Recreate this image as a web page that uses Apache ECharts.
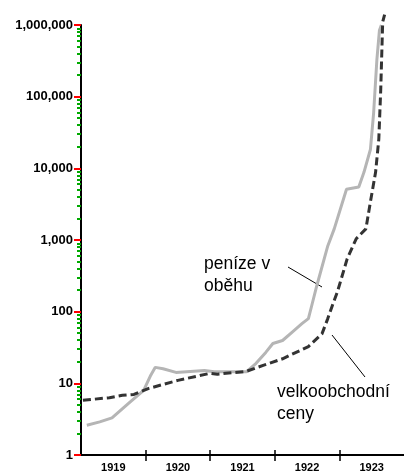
<!DOCTYPE html>
<html>
<head>
<meta charset="utf-8">
<script src="https://cdn.jsdelivr.net/npm/echarts@6/dist/echarts.min.js"></script>
<style>
html,body{margin:0;padding:0;background:#fff;}
#chart{width:404px;height:473px;}
</style>
</head>
<body>
<div id="chart"></div>
<script>
// Years shown under the x axis
var years = ['1919', '1920', '1921', '1922', '1923'];
// Y tick values and labels (log scale, powers of ten)
var yTickValues = [1, 10, 100, 1000, 10000, 100000, 1000000];
var yTickLabels = ['1', '10', '100', '1,000', '10,000', '100,000', '1,000,000'];

// Money in circulation (peníze v oběhu): time in fractional years, index value
var moneyT = [1919.09, 1919.29, 1919.48, 1919.74, 1919.97, 1920.08, 1920.15, 1920.27, 1920.47, 1920.91, 1921.06, 1921.56, 1921.71, 1921.86, 1921.97, 1922.12, 1922.27, 1922.42, 1922.52, 1922.58, 1922.65, 1922.82, 1922.92, 1923.11, 1923.30, 1923.38, 1923.48, 1923.53, 1923.58, 1923.62, 1923.65];
var moneyV = [2.6, 2.9, 3.3, 5.3, 8, 13, 16.7, 16, 14.2, 15.1, 14.5, 14.5, 19, 27, 36, 39.6, 52, 68, 80, 130, 230, 826, 1430, 5100, 5500, 8800, 18300, 59600, 325000, 846000, 1000000];

// Wholesale prices (velkoobchodní ceny)
var priceT = [1919.03, 1919.44, 1919.64, 1919.82, 1920.05, 1920.50, 1921.00, 1921.11, 1921.56, 1921.82, 1922.12, 1922.52, 1922.73, 1922.82, 1922.89, 1922.97, 1923.12, 1923.26, 1923.41, 1923.48, 1923.56, 1923.61, 1923.64, 1923.67, 1923.70];
var priceV = [5.8, 6.3, 6.8, 7, 8.5, 11, 13.8, 13.4, 14.7, 17.8, 22, 32.6, 49, 80, 121, 190, 545, 1040, 1430, 3400, 8800, 25500, 127000, 1100000, 1400000];

function zip(a, b) { return a.map(function (v, i) { return [v, b[i]]; }); }

var yearTicks = years.slice(1).map(Number);
var yearLabelPos = years.map(function (y) { return Number(y) + 0.5; });
var minorTickValues = [];
for (var e = 0; e < 6; e++) {
  for (var m = 2; m <= 9; m++) minorTickValues.push(m * Math.pow(10, e));
}

var chart = echarts.init(document.getElementById('chart'));
var option = {
  animation: false,
  grid: { left: 81, top: 25, bottom: 16, right: -7 },
  xAxis: [
    {
      type: 'value', min: 1919, max: 1924, position: 'bottom',
      axisLine: { show: true, lineStyle: { color: '#000', width: 2 } },
      axisTick: { show: true, customValues: yearTicks, length: 6, lineStyle: { color: '#000', width: 1.5 } },
      axisLabel: {
        customValues: yearLabelPos, margin: 7,
        formatter: function (v) { return years[Math.floor(v) - 1919]; },
        fontFamily: 'Liberation Sans', fontWeight: 'bold', fontSize: 11, color: '#000'
      },
      splitLine: { show: false }
    },
    {
      type: 'value', min: 1919, max: 1924, position: 'bottom', offset: 0,
      axisLine: { show: false },
      axisTick: { show: true, customValues: yearTicks, length: 5, inside: true, lineStyle: { color: '#000', width: 1.5 } },
      axisLabel: { show: false },
      splitLine: { show: false }
    }
  ],
  yAxis: [
    {
      type: 'log', min: 1, max: 1000000, position: 'left',
      axisLine: { show: true, lineStyle: { color: '#000', width: 2 } },
      axisTick: { show: true, length: 7, lineStyle: { color: '#f00', width: 2 } },
      axisLabel: {
        formatter: function (v) { return yTickLabels[yTickValues.indexOf(v)] || yTickLabels[Math.round(Math.log10(v))]; },
        fontFamily: 'Liberation Sans', fontWeight: 'bold', fontSize: 13, color: '#000'
      },
      splitLine: { show: false }
    },
    {
      type: 'log', min: 1, max: 1000000, position: 'left', offset: 0,
      axisLine: { show: false },
      axisTick: { show: true, customValues: minorTickValues, length: 4, lineStyle: { color: '#0a0', width: 2 } },
      axisLabel: { show: false },
      splitLine: { show: false }
    }
  ],
  series: [
    {
      name: 'peníze v oběhu', type: 'line',
      data: zip(moneyT, moneyV), showSymbol: false,
      lineStyle: { color: '#b5b5b5', width: 3 }
    },
    {
      name: 'velkoobchodní ceny', type: 'line',
      data: zip(priceT, priceV), showSymbol: false, clip: false,
      lineStyle: { color: '#333', width: 3, type: [8, 4] }
    }
  ],
  graphic: [
    { type: 'text', left: 204, top: 253, style: { text: 'peníze v\noběhu', font: '17.5px "Liberation Sans"', lineHeight: 22, fill: '#000' } },
    { type: 'text', left: 277, top: 381, style: { text: 'velkoobchodní\nceny', font: '17.5px "Liberation Sans"', lineHeight: 22, fill: '#000' } },
    { type: 'line', shape: { x1: 288, y1: 267, x2: 322, y2: 287 }, style: { stroke: '#000', lineWidth: 1 } },
    { type: 'line', shape: { x1: 332, y1: 335, x2: 365, y2: 377 }, style: { stroke: '#000', lineWidth: 1 } }
  ]
};
chart.setOption(option);
</script>
</body>
</html>
